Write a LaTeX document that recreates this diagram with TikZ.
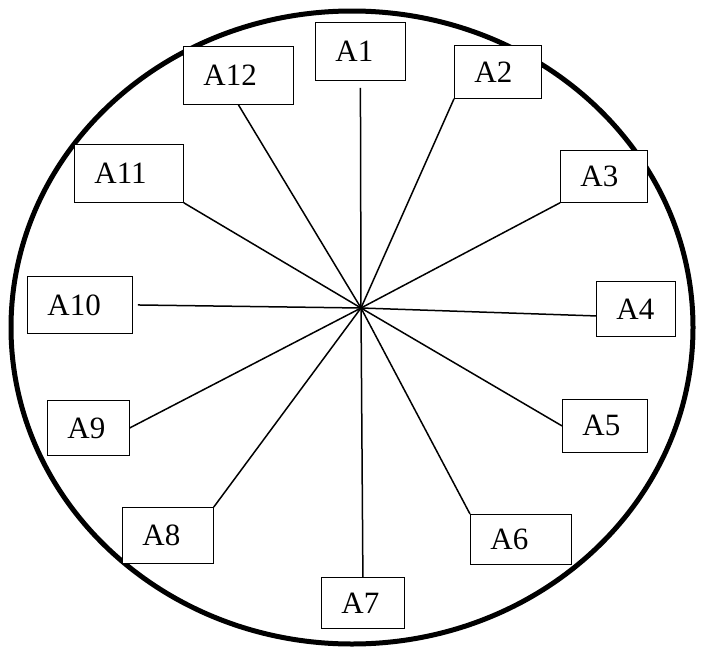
\documentclass[tikz,border=0pt]{standalone}
\usepackage{fontspec}
\setmainfont{Liberation Serif}
\usetikzlibrary{calc,positioning}

\begin{document}
\begin{tikzpicture}[x=1pt,y=-1pt,every node/.style={font=\fontsize{31}{36}\selectfont}]

% name/left/top/width/height of the boxes
\def\boxes{
A1/315/22/90/58,
A2/454/45/87/53,
A3/560/150/87/52,
A4/596/281/79/55,
A5/562/399/85/53,
A6/470/514/101/50,
A7/321/577/83/51,
A8/122/507/91/56,
A9/47/400/82/55,
A10/27/276/105/57,
A11/74/144/109/58,
A12/183/46/110/58
}

% where each spoke meets its box, and the gap left there
\def\ends{
A1.south/7,
A2.south west/0,
A3.south west/0,
A4.190/0,
A5.west/0,
A6.north west/0,
A7.north/0,
A8.north east/0,
A9.east/0,
A10.east/5,
A11.south east/0,
A12.south/0
}

\useasboundingbox (0,0) rectangle (704,648);

% draw the outer ring
\draw [line width=5pt] (352,327.5) ellipse [x radius=341, y radius=316.5];

\coordinate (hub) at (361,308);

% draw the boxes
\foreach \name/\x/\y/\w/\h in \boxes
{
\pgfmathsetmacro\tw{\w-40}
\node [draw, line width=0.8pt, fill=white, anchor=north west, align=left,
       text width=\tw pt, minimum height=\h pt, inner xsep=20pt, inner ysep=0pt] (\name) at (\x,\y) {\name};
}

% draw the spokes
\foreach \e/\s in \ends
\draw [line width=1.5pt, shorten >=\s pt] (hub) -- (\e);

\end{tikzpicture}
\end{document}
